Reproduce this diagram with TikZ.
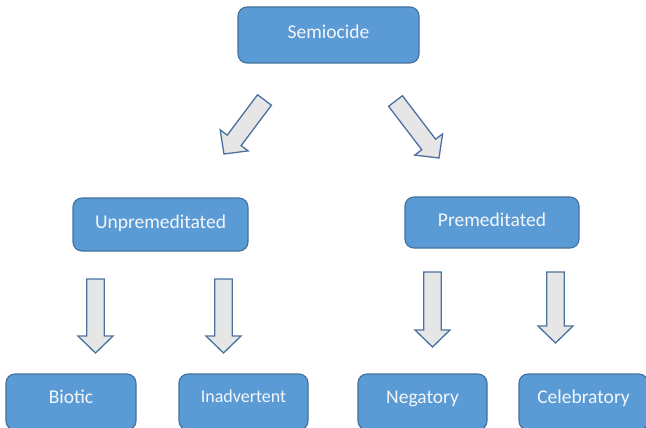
\documentclass[tikz,border=0pt]{standalone}
\usepackage{fontspec}
\setmainfont{Carlito}
\definecolor{boxfill}{HTML}{5B9BD5}
\definecolor{boxline}{HTML}{41719C}
\definecolor{arrfill}{HTML}{E7E6E6}
\definecolor{arrline}{HTML}{4A72A0}
\definecolor{txt}{HTML}{F4F6FA}
\newcommand\blkarrow[4]{% x, y, angle, length
  \draw[blockarrow, shift={(#1,#2)}, rotate=#3]
    (0,8.7) -- ({#4-17},8.7) -- ({#4-17},17.5) -- (#4,0) -- ({#4-17},-17.5) -- ({#4-17},-8.7) -- (0,-8.7) -- cycle;}
\begin{document}
\begin{tikzpicture}[x=1pt,y=1pt,
  box/.style={draw=boxline, fill=boxfill, line width=1.1pt, rounded corners=9pt,
    text=txt, font=\fontsize{19.5}{22}\selectfont, inner sep=0pt,
    text height=15pt, text depth=8pt},
  lbl/.style={text=txt, font=\fontsize{19.5}{22}\selectfont, inner sep=0pt,
    text height=14pt, text depth=5pt},
  blockarrow/.style={draw=arrline, fill=arrfill, line width=1.3pt, line join=miter}]
\clip (0,0) rectangle (646,-428);
\fill[white] (0,0) rectangle (646,-428);
% top
\node[box, minimum width=181pt, minimum height=56pt] (sem) at (328.5,-35) {Semiocide};
\node[box, minimum width=175pt, minimum height=53pt] (unp) at (160.5,-224.5) {Unpremeditated};
\node[box, minimum width=174pt, minimum height=51pt] (pre) at (492,-222.5) {Premeditated};
% bottom
\node[box, minimum width=130pt, minimum height=56pt] (bio) at (71,-402) {};
\node[box, minimum width=129pt, minimum height=56pt] (ina) at (243.5,-402) {};
\node[box, minimum width=129pt, minimum height=56pt] (neg) at (422.5,-402) {};
\node[box, minimum width=129pt, minimum height=56pt] (cel) at (583.5,-402) {};
\node[lbl] (biot) at ([yshift=3pt]bio.center) {Biotic};
\node[lbl, font=\fontsize{18}{21}\selectfont] (inat) at ([yshift=4pt]ina.center) {Inadvertent};
\node[lbl] (negt) at ([yshift=3pt]neg.center) {Negatory};
\node[lbl] (celt) at ([yshift=3pt]cel.center) {Celebratory};
% arrows
\blkarrow{264.5}{-100}{233.1}{67.5}
\blkarrow{395.5}{-101}{-52.65}{71.7}
\blkarrow{95.5}{-279}{-90}{74}
\blkarrow{223.5}{-279}{-90}{74}
\blkarrow{432.5}{-272}{-90}{75}
\blkarrow{555.5}{-272}{-90}{71}
\end{tikzpicture}
\end{document}
